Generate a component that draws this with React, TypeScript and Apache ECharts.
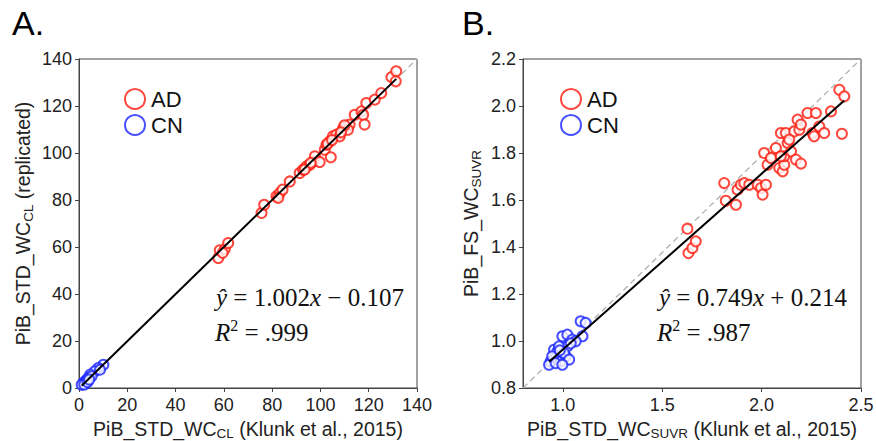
import React, { useEffect, useRef } from "react";
import * as echarts from "echarts";

// Panel A: PiB_STD_WC (CL) replicated vs Klunk et al. 2015
const AD_A: number[][] = [
  [57.7, 55.3], [58.3, 58.6], [60.4, 59.1], [61.8, 61.7], [59.5, 57.5],
  [75.6, 74.5], [76.7, 78.0], [81.8, 81.6], [83.2, 83.0], [84.3, 84.4], [82.5, 80.9],
  [87.3, 87.9], [91.4, 91.5], [92.8, 92.9], [94.2, 94.3], [95.6, 95.0], [97.2, 96.5],
  [97.7, 98.6], [99.7, 96.2], [101.8, 101.4], [102.5, 103.5], [103.9, 105.0], [104.3, 98.2],
  [105.2, 107.1], [106.6, 107.8], [108.0, 107.1], [109.4, 110.6], [110.8, 111.3], [112.1, 112.1],
  [111.4, 109.9], [114.2, 116.3], [117.0, 117.7], [117.7, 116.3], [118.3, 112.1], [119.0, 121.3],
  [122.5, 122.7], [125.2, 125.5], [129.4, 132.3], [131.4, 134.8], [131.2, 130.5],
  [93.5, 93.0], [96.0, 95.8], [103.0, 104.0], [104.8, 105.5], [110.0, 111.8], [108.5, 108.8],
];
const CN_A: number[][] = [
  [10.1, 9.9], [8.0, 8.5], [6.6, 7.1], [4.6, 5.7], [3.2, 3.5], [2.5, 2.8], [1.8, 2.1],
  [3.9, 4.3], [1.1, 1.4], [5.2, 5.0], [8.7, 7.8], [2.2, 1.5], [3.5, 2.5], [4.2, 3.6],
];

// Panel B: PiB_FS_WC (SUVR) vs PiB_STD_WC (SUVR)
const AD_B: number[][] = [
  [1.627, 1.478], [1.632, 1.374], [1.652, 1.396], [1.669, 1.424], [1.812, 1.672], [1.82, 1.597],
  [1.871, 1.58], [1.879, 1.644], [1.896, 1.665], [1.913, 1.672], [1.938, 1.665], [1.98, 1.665],
  [1.997, 1.651], [2.005, 1.623], [2.022, 1.665], [2.013, 1.8], [2.03, 1.75], [2.047, 1.779],
  [2.072, 1.821], [2.089, 1.736], [2.097, 1.885], [2.106, 1.722], [2.114, 1.75], [2.114, 1.786],
  [2.122, 1.885], [2.131, 1.843], [2.148, 1.807], [2.164, 1.892], [2.173, 1.772], [2.181, 1.942],
  [2.19, 1.899], [2.198, 1.921], [2.198, 1.755], [2.231, 1.97], [2.256, 1.885], [2.264, 1.871],
  [2.273, 1.97], [2.29, 1.913], [2.315, 1.885], [2.349, 1.977], [2.391, 2.069], [2.416, 2.041],
  [2.404, 1.882], [2.139, 1.857], [2.097, 1.786],
];
const CN_B: number[][] = [
  [1.09, 1.084], [1.115, 1.077], [1.099, 1.02], [0.998, 1.02], [1.023, 1.027], [1.048, 1.006],
  [0.956, 0.963], [0.973, 0.956], [0.939, 0.913], [0.931, 0.899], [0.964, 0.928], [0.99, 0.913],
  [1.015, 0.935], [1.023, 0.977], [0.981, 0.977], [1.006, 0.949], [0.947, 0.935], [1.032, 0.921],
  [1.065, 0.999], [0.964, 0.906], [0.998, 0.899], [0.985, 0.96], [1.04, 0.99],
];

const FIT_A = { slope: 1.002, intercept: -0.107, r2: ".999" };
const FIT_B = { slope: 0.749, intercept: 0.214, r2: ".987" };

const RANGE_A = { xMin: 0, xMax: 140, yMin: 0, yMax: 140 };
const RANGE_B = { xMin: 0.8, xMax: 2.5, yMin: 0.8, yMax: 2.2 };

const TICKS_A = [0, 20, 40, 60, 80, 100, 120, 140];
const TICKS_BX = [1.0, 1.5, 2.0, 2.5];
const TICKS_BY = [0.8, 1.0, 1.2, 1.4, 1.6, 1.8, 2.0, 2.2];

const RED = "#ff1c0e";
const BLUE = "#1a25ff";
const SANS = "Liberation Sans, Arial, sans-serif";
const SERIF = "Liberation Serif, Times New Roman, serif";

function fitLine(fit: { slope: number; intercept: number }, pts: number[][]) {
  const xs = pts.map((p) => p[0]);
  const x0 = Math.min(...xs);
  const x1 = Math.max(...xs);
  return [
    [x0, fit.slope * x0 + fit.intercept],
    [x1, fit.slope * x1 + fit.intercept],
  ];
}

const nameRich = {
  a: { fontSize: 19.5, fontFamily: SANS, color: "#222", lineHeight: 24, verticalAlign: "middle" },
  s: { fontSize: 13.5, fontFamily: SANS, color: "#222", lineHeight: 14, verticalAlign: "bottom" },
};

export default function App() {
  const ref = useRef<HTMLDivElement>(null);
  useEffect(() => {
    if (!ref.current) return;
    const chart = echarts.init(ref.current, undefined, { renderer: "svg" });

    const axisCommon = {
      type: "value" as const,
      axisLine: { show: true, lineStyle: { color: "#444", width: 1 } },
      axisTick: { show: true, inside: false, length: 4, lineStyle: { color: "#444" } },
      splitLine: { show: false },
      nameLocation: "middle" as const,
      nameTextStyle: { rich: nameRich },
    };
    const labelStyle = { fontSize: 18, fontFamily: SANS, color: "#222" };

    const scatter = (name: string, data: number[][], color: string, idx: number) => ({
      type: "scatter",
      name,
      xAxisIndex: idx,
      yAxisIndex: idx,
      data,
      symbol: "emptyCircle",
      symbolSize: 10,
      itemStyle: { color, borderColor: color, borderWidth: 1.6 },
      z: 3,
    });

    const diag = (r: { xMin: number; xMax: number; yMin: number; yMax: number }, idx: number) => ({
      type: "line",
      xAxisIndex: idx,
      yAxisIndex: idx,
      data: [[r.xMin, r.yMin], [r.xMax, r.yMax]],
      symbol: "none",
      lineStyle: { color: "#b0b0b0", width: 1.3, type: [6, 4] },
      z: 1,
      silent: true,
    });

    const fitSeries = (f: { slope: number; intercept: number }, pts: number[][], idx: number) => ({
      type: "line",
      xAxisIndex: idx,
      yAxisIndex: idx,
      data: fitLine(f, pts),
      symbol: "none",
      lineStyle: { color: "#000", width: 2 },
      z: 4,
      silent: true,
    });

    const eqRich = {
      i: { fontFamily: SERIF, fontStyle: "italic", fontSize: 25, fill: "#111", lineHeight: 30 },
      n: { fontFamily: SERIF, fontSize: 25, fill: "#111", lineHeight: 30 },
      sup: { fontFamily: SERIF, fontSize: 16, fill: "#111", lineHeight: 16, verticalAlign: "top" },
    };
    const fmtEq = (f: { slope: number; intercept: number }) =>
      `{i|ŷ}{n| = ${f.slope.toFixed(3)}}{i|x}{n| ${f.intercept < 0 ? "−" : "+"} ${Math.abs(f.intercept).toFixed(3)}}`;

    const legendCommon = {
      data: ["AD", "CN"],
      orient: "vertical",
      top: 83,
      padding: 5,
      itemWidth: 20,
      itemHeight: 20,
      itemGap: 4,
      icon: "emptyCircle",
      selectedMode: false,
      itemStyle: { borderWidth: 2 },
      textStyle: { fontSize: 22, fontFamily: SANS, color: "#111", padding: [0, 0, 0, 1] },
    };

    const gridCommon = {
      top: 59,
      width: 338,
      height: 329,
      show: true,
      borderColor: "#444",
      borderWidth: 1,
      containLabel: false,
      outerBoundsMode: "none",
    };

    chart.setOption({
      animation: false,
      grid: [
        { ...gridCommon, left: 79 },
        { ...gridCommon, left: 523 },
      ],
      xAxis: [
        {
          ...axisCommon,
          gridIndex: 0,
          min: RANGE_A.xMin,
          max: RANGE_A.xMax,
          interval: 20,
          name: "{a|PiB_STD_WC}{s|CL}{a| (Klunk et al., 2015)}",
          nameGap: 28,
          axisLabel: { ...labelStyle, margin: 8, customValues: TICKS_A },
          axisTick: { ...axisCommon.axisTick, customValues: TICKS_A },
        },
        {
          ...axisCommon,
          gridIndex: 1,
          min: RANGE_B.xMin,
          max: RANGE_B.xMax,
          name: "{a|PiB_STD_WC}{s|SUVR}{a| (Klunk et al., 2015)}",
          nameGap: 28,
          axisLabel: { ...labelStyle, margin: 8, customValues: TICKS_BX, formatter: (v: number) => v.toFixed(1) },
          axisTick: { ...axisCommon.axisTick, customValues: TICKS_BX },
        },
      ],
      yAxis: [
        {
          ...axisCommon,
          gridIndex: 0,
          min: RANGE_A.yMin,
          max: RANGE_A.yMax,
          interval: 20,
          name: "{a|PiB_STD_WC}{s|CL}{a| (replicated)}",
          nameGap: 44,
          axisLabel: { ...labelStyle, margin: 7, customValues: TICKS_A },
          axisTick: { ...axisCommon.axisTick, customValues: TICKS_A },
        },
        {
          ...axisCommon,
          gridIndex: 1,
          min: RANGE_B.yMin,
          max: RANGE_B.yMax,
          name: "{a|PiB_FS_WC}{s|SUVR}",
          nameGap: 40,
          axisLabel: { ...labelStyle, margin: 7, customValues: TICKS_BY, formatter: (v: number) => v.toFixed(1) },
          axisTick: { ...axisCommon.axisTick, customValues: TICKS_BY },
        },
      ],
      legend: [
        { ...legendCommon, left: 119 },
        { ...legendCommon, left: 555 },
      ],
      series: [
        diag(RANGE_A, 0),
        scatter("AD", AD_A, RED, 0),
        scatter("CN", CN_A, BLUE, 0),
        fitSeries(FIT_A, [...AD_A, ...CN_A], 0),
        diag(RANGE_B, 1),
        scatter("AD", AD_B, RED, 1),
        scatter("CN", CN_B, BLUE, 1),
        fitSeries(FIT_B, [...AD_B, ...CN_B], 1),
      ],
      graphic: [
        { type: "text", left: 12, top: 6, style: { text: "A.", fontSize: 34, fontFamily: SANS, fill: "#000" } },
        { type: "text", left: 462, top: 6, style: { text: "B.", fontSize: 34, fontFamily: SANS, fill: "#000" } },
        { type: "text", x: 216, y: 297, style: { text: fmtEq(FIT_A), rich: eqRich, verticalAlign: "middle" } },
        { type: "text", x: 215, y: 332, style: { text: `{i|R}{sup|2}{n| = ${FIT_A.r2}}`, rich: eqRich, verticalAlign: "middle" } },
        { type: "text", x: 659, y: 297, style: { text: fmtEq(FIT_B), rich: eqRich, verticalAlign: "middle" } },
        { type: "text", x: 657, y: 332, style: { text: `{i|R}{sup|2}{n| = ${FIT_B.r2}}`, rich: eqRich, verticalAlign: "middle" } },
      ],
    });
    return () => chart.dispose();
  }, []);
  return <div ref={ref} style={{ position: "absolute", left: 0, top: 0, width: 876, height: 441 }} />;
}
